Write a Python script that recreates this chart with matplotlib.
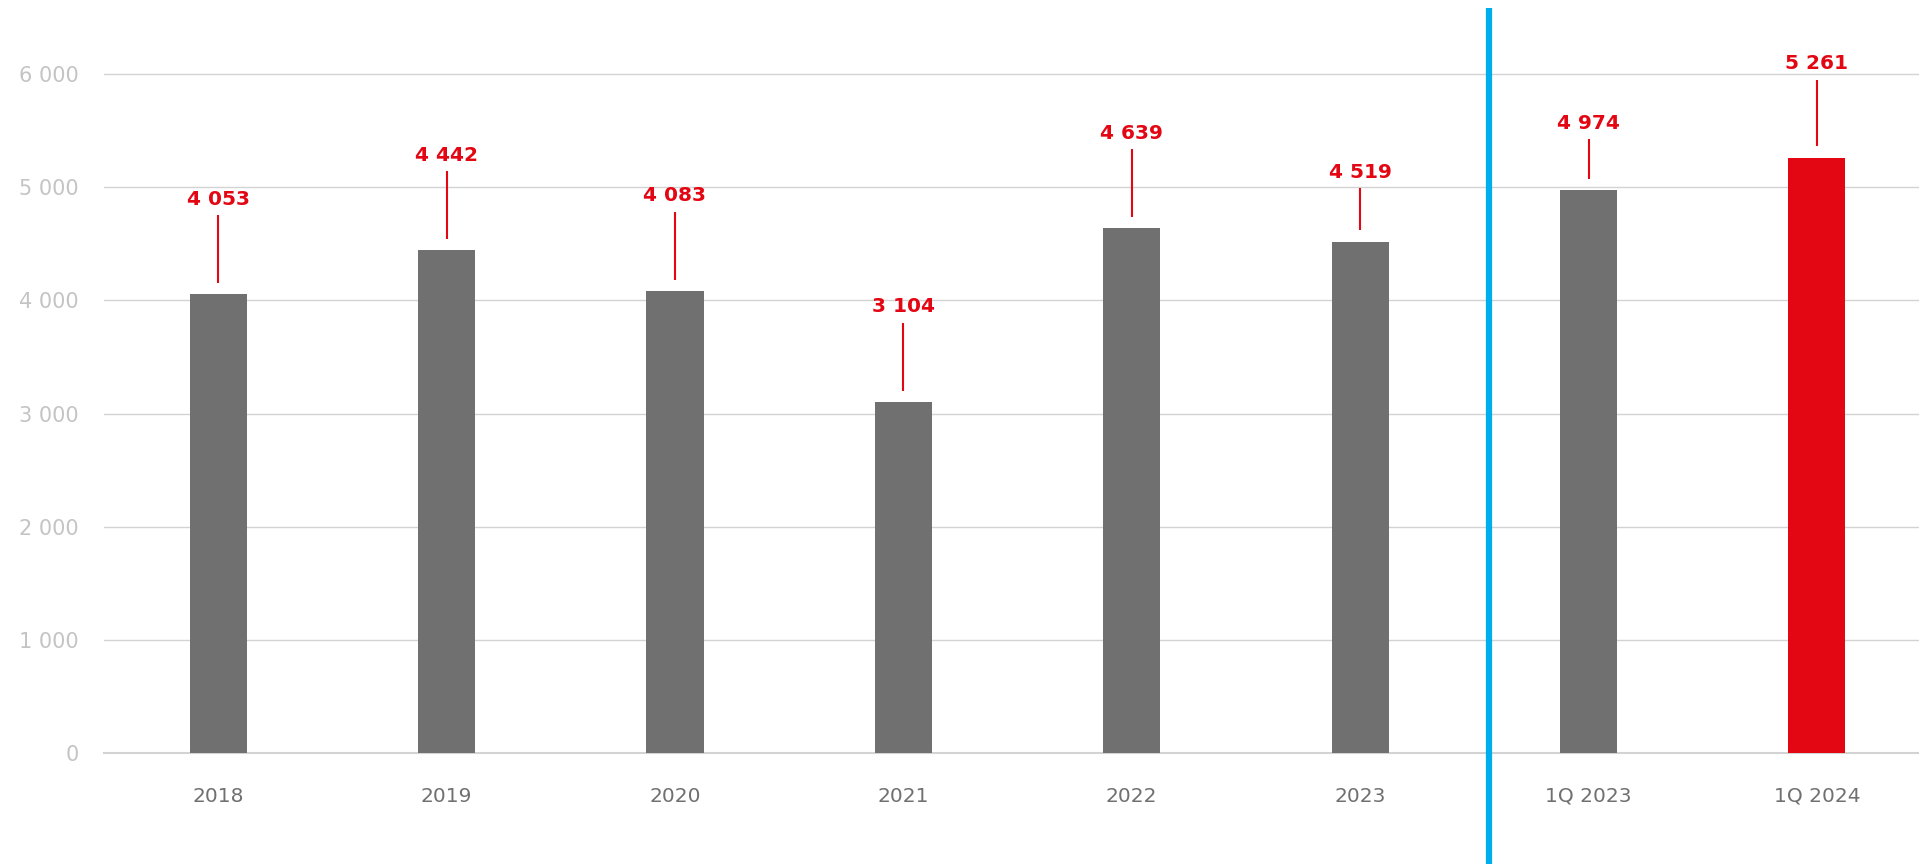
import matplotlib
matplotlib.use('Agg')
import matplotlib.pyplot as plt

# данные
categories = ['2018', '2019', '2020', '2021', '2022', '2023', '1Q 2023', '1Q 2024']
values = [4053, 4442, 4083, 3104, 4639, 4519, 4974, 5261]
labels = ['4 053', '4 442', '4 083', '3 104', '4 639', '4 519', '4 974', '5 261']
yticks = [0, 1000, 2000, 3000, 4000, 5000, 6000]
ytick_labels = ['0', '1 000', '2 000', '3 000', '4 000', '5 000', '6 000']
# длина выносной линии (в единицах оси)
leader = [600, 600, 600, 600, 600, 370, 350, 590]

GREY = '#707070'
RED = '#E30613'
BLUE = '#00AEEF'

plt.rcParams['font.family'] = ['DejaVu Sans']

fig = plt.figure(figsize=(19.19, 8.64), dpi=100)
ax = fig.add_axes([104 / 1919, 110.7 / 864, 1 - 104 / 1919, 753.3 / 864])

x = list(range(len(categories)))
colors = [GREY] * (len(values) - 1) + [RED]
ax.bar(x, values, width=0.25, color=colors, zorder=3)

for xi, v, lab, L in zip(x, values, labels, leader):
    y0 = v + 100
    ax.plot([xi, xi], [y0, y0 + L], color=RED, lw=1.5, zorder=4,
            solid_capstyle='butt')
    ax.text(xi, y0 + L + 140, lab, ha='center', va='center', color=RED,
            fontsize=14.5, fontweight='bold')

ax.set_xlim(-0.5, 7.447)
ax.set_ylim(0, 6654)
ax.set_yticks(yticks)
ax.set_yticklabels(ytick_labels, color='#c4c4c4', fontsize=15)
ax.set_xticks(x)
ax.set_xticklabels(categories, color=GREY, fontsize=14.5)
ax.tick_params(axis='y', length=0, pad=18)
ax.tick_params(axis='x', length=0, pad=24)
ax.grid(axis='y', color='#d3d3d3', lw=1.0, zorder=0)
ax.axhline(0, color='#d3d3d3', lw=1.5, zorder=2, clip_on=False)
for s in ax.spines.values():
    s.set_visible(False)

# разделитель годовых и квартальных данных
ax.axvline(5.565, ymin=-0.147, ymax=6579 / 6654, color=BLUE, lw=4.5,
           clip_on=False, zorder=5, solid_capstyle='butt')

fig.savefig('out.png', dpi=100)
